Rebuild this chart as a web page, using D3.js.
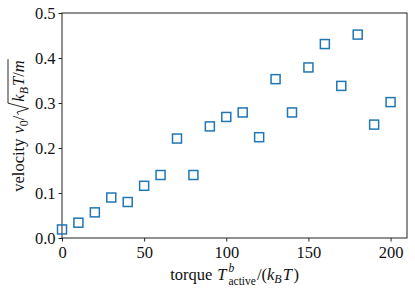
<!DOCTYPE html>
<html>
<head>
<meta charset="utf-8">
<script src="https://cdn.jsdelivr.net/npm/d3@7"></script>
<style>
  body { margin: 0; background: #fff; }
  svg { display: block; }
  text { font-family: "Liberation Serif", "DejaVu Serif", serif; fill: #111; }
</style>
</head>
<body>
<div class="chart"></div>
<script>
const torque = [0, 10, 20, 30, 40, 50, 60, 70, 80, 90, 100, 110, 120, 130, 140, 150, 160, 170, 180, 190, 200];
const velocity = [0.019, 0.034, 0.057, 0.090, 0.080, 0.116, 0.140, 0.221, 0.140, 0.248, 0.269, 0.279, 0.224, 0.353, 0.279, 0.379, 0.431, 0.338, 0.452, 0.252, 0.302];
const xTicks = [0, 50, 100, 150, 200];
const yTicks = [0.0, 0.1, 0.2, 0.3, 0.4, 0.5];

const w = 415, h = 292;
const m = {left: 62, right: 8, top: 13, bottom: 54};
const fs = 16.5;   // main font size
const ss = 12;     // sub/superscript size

var svg = d3.select(".chart").append("svg")
  .attr("width", w)
  .attr("height", h);

var x = d3.scaleLinear().domain([0, 210]).range([m.left, w - m.right]);
var y = d3.scaleLinear().domain([0, 0.5]).range([h - m.bottom, m.top]);

// frame
svg.append("rect")
  .attr("x", m.left).attr("y", m.top)
  .attr("width", w - m.left - m.right).attr("height", h - m.top - m.bottom)
  .attr("fill", "none").attr("stroke", "#222").attr("stroke-width", 1);

var xAxis = d3.axisBottom(x).tickValues(xTicks).tickSize(3.5).tickPadding(3).tickFormat(d3.format("d"));
var gx = svg.append("g")
  .attr("transform", "translate(0," + (h - m.bottom) + ")")
  .call(xAxis);

var yAxis = d3.axisLeft(y).tickValues(yTicks).tickSize(3.5).tickPadding(3).tickFormat(d3.format(".1f"));
var gy = svg.append("g")
  .attr("transform", "translate(" + m.left + ",0)")
  .call(yAxis);

[gx, gy].forEach(g => {
  g.select(".domain").remove();
  g.selectAll(".tick line").attr("stroke", "#222");
  g.selectAll(".tick text").attr("font-size", fs).attr("fill", "#111")
    .style("font-family", '"Liberation Serif", serif');
});
gx.selectAll(".tick text").attr("dy", "0.8em");

// markers
svg.selectAll(".pt")
  .data(torque)
  .enter().append("rect")
  .attr("class", "pt")
  .attr("x", (d) => x(d) - 4.5)
  .attr("y", (d, i) => y(velocity[i]) - 4.5)
  .attr("width", 9).attr("height", 9)
  .attr("fill", "none")
  .attr("stroke", "#1f77b4")
  .attr("stroke-width", 1.5);

// build a math-ish label from pieces, measuring widths
function mathLabel(parent, pieces) {
  var g = parent.append("g");
  var cx = 0, marks = {};
  pieces.forEach(p => {
    if (p.mark) { marks[p.mark] = cx; return; }
    if (p.gap) { cx += p.gap; return; }
    if (p.stack) {
      // superscript over subscript in one text element
      var st = g.append("text").attr("font-size", p.size || ss);
      var a = st.append("tspan").attr("x", cx).attr("y", p.stack[0].dy)
        .style("font-style", p.stack[0].it ? "italic" : "normal").text(p.stack[0].t);
      var b = st.append("tspan").attr("x", cx).attr("y", p.stack[1].dy)
        .style("font-style", p.stack[1].it ? "italic" : "normal").text(p.stack[1].t);
      cx += Math.max(a.node().getComputedTextLength(), b.node().getComputedTextLength());
      return;
    }
    var t = g.append("text")
      .attr("x", cx).attr("y", p.dy || 0)
      .attr("font-size", p.size || fs)
      .style("font-style", p.it ? "italic" : "normal")
      .text(p.t);
    cx += t.node().getComputedTextLength();
  });
  return {g: g, width: cx, marks: marks};
}

// x label
var xl = mathLabel(svg, [
  {t: "torque"}, {gap: 5}, {t: "T", it: true}, {gap: 2},
  {stack: [{t: "b", it: true, dy: -8}, {t: "active", dy: 5}], size: 11.5}, {gap: 1},
  {t: "/("}, {t: "k", it: true}, {t: "B", it: true, size: ss, dy: 3.5}, {gap: 1},
  {t: "T", it: true}, {gap: 1.5}, {t: ")"}
]);
xl.g.attr("transform", "translate(" + ((m.left + w - m.right) / 2 - xl.width / 2) + "," + (h - 12.5) + ")");

// y label
var yg = svg.append("g");
var yl = mathLabel(yg, [
  {t: "velocity"}, {gap: 5}, {t: "v", it: true}, {t: "0", size: ss, dy: 3.5},
  {t: "/"}, {mark: "r0"}, {gap: 14}, {mark: "r1"},
  {t: "k", it: true}, {t: "B", it: true, size: ss, dy: 3.5}, {gap: 1},
  {t: "T", it: true}, {t: "/"}, {t: "m", it: true}, {gap: 1}
]);
var r0 = yl.marks.r0;
yl.g.append("path")
  .attr("d", "M" + (r0 + 1) + ",-5.5 L" + (r0 + 3.5) + ",-7 L" + (r0 + 7) + ",4.5 L" + (r0 + 12.5) + ",-16 L" + yl.width + ",-16")
  .attr("fill", "none").attr("stroke", "#111").attr("stroke-width", 0.9);
yl.g.attr("transform", "translate(24," + ((m.top + h - m.bottom) / 2 + yl.width / 2) + ") rotate(-90)");
</script>
</body>
</html>
